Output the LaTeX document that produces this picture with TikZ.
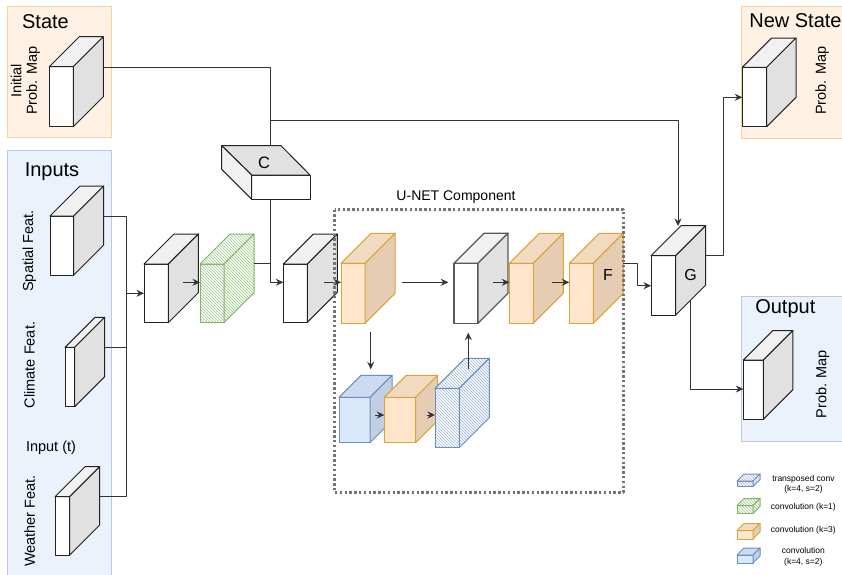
\documentclass[tikz,border=0pt]{standalone}
\usepackage{fontspec}
\setmainfont{Liberation Sans}
\usetikzlibrary{arrows.meta,patterns,calc}

\definecolor{orfill}{HTML}{FFE6CC}
\definecolor{ortop}{HTML}{F2DAC0}
\definecolor{orside}{HTML}{E5CCB3}
\definecolor{orline}{HTML}{D9A53A}
\definecolor{blfill}{HTML}{DAE8FC}
\definecolor{bltop}{HTML}{CCDBF0}
\definecolor{blside}{HTML}{C2CFE2}
\definecolor{blline}{HTML}{6C8EBF}
\definecolor{grline}{HTML}{82B366}
\definecolor{grhatch}{HTML}{9CC78A}
\definecolor{blhatch}{HTML}{9DB6DC}
\definecolor{gtopc}{HTML}{F1F1F1}
\definecolor{gsidec}{HTML}{E1E1E1}
\definecolor{cubeline}{HTML}{222222}
\definecolor{statefill}{HTML}{FFF1E3}
\definecolor{stateline}{HTML}{F2D39E}
\definecolor{inpfill}{HTML}{EBF2FC}
\definecolor{inpline}{HTML}{B8CAE6}
\definecolor{connc}{HTML}{333333}

\newcommand\mkcube[7]{%
  \path[#7front] (#2,#3) rectangle ++(#4,#5);
  \path[#7top] (#2,#3) -- ++(#6,-#6) -- ++(#4,0) -- ++(-#6,#6) -- cycle;
  \path[#7side] ({#2+#4},#3) -- ++(#6,-#6) -- ++(0,#5) -- ++(-#6,#6) -- cycle;
  \path ({#2},{#3-#6}) node[inner sep=0pt,outer sep=0pt,anchor=north west,minimum width={(#4+#6)*1pt},minimum height={(#5+#6)*1pt}] (#1) {};
}

\tikzset{
  gfront/.style={draw=cubeline,fill=white},
  gtop/.style={draw=cubeline,fill=gtopc},
  gside/.style={draw=cubeline,fill=gsidec},
  kfront/.style={draw=black!65,line width=1.3pt,fill=white},
  ktop/.style={draw=black!65,line width=1.3pt,fill=gtopc},
  kside/.style={draw=black!65,line width=1.3pt,fill=gsidec},
  ofront/.style={draw=orline,fill=orfill},
  otop/.style={draw=orline,fill=ortop},
  oside/.style={draw=orline,fill=orside},
  bfront/.style={draw=blline,fill=blfill},
  btop/.style={draw=blline,fill=bltop},
  bside/.style={draw=blline,fill=blside},
  hgfront/.style={draw=grline,preaction={fill=white},pattern=north west lines,pattern color=grhatch},
  hgtop/.style={draw=grline,preaction={fill=white},pattern=north west lines,pattern color=grhatch},
  hgside/.style={draw=grline,preaction={fill=green!4!white},pattern=north west lines,pattern color=grhatch},
  hbfront/.style={draw=blline,preaction={fill=white},pattern=north west lines,pattern color=blhatch},
  hbtop/.style={draw=blline,preaction={fill=white},pattern=north west lines,pattern color=blhatch},
  hbside/.style={draw=blline,preaction={fill=blue!3!white},pattern=north west lines,pattern color=blhatch},
  statebox/.style={draw=stateline,fill=statefill,line width=1pt},
  inpbox/.style={draw=inpline,fill=inpfill,line width=1pt},
  conn/.style={draw=connc,line width=1pt},
  arr/.style={draw=connc,line width=1pt,-{Stealth[length=7.5pt,width=7pt,inset=2.5pt]}},
  bigtxt/.style={inner sep=0pt,font=\fontsize{20}{24}\selectfont},
  labtxt/.style={inner sep=0pt,font=\fontsize{14.5}{16}\selectfont,align=center},
  rlab/.style={labtxt,rotate=90},
  legtxt/.style={inner sep=0pt,font=\fontsize{8.5}{10.5}\selectfont,align=center},
  unet/.style={draw=black!55,line width=2.6pt,dash pattern=on 2.4pt off 2.4pt},
}

\begin{document}
\begin{tikzpicture}[x=1pt,y=-1pt,line join=round,line width=1pt]
\useasboundingbox (0,0) rectangle (842,574);
\clip (0,0) rectangle (842,574);
\fill[white] (0,0) rectangle (842,574);

% group boxes
\draw[statebox] (7,6) rectangle (111.5,137.7);
\draw[inpbox] (7,150) rectangle (111.5,580);
\draw[statebox] (741,6) rectangle (852,138.3);
\draw[inpbox] (741,296) rectangle (852,441.7);

\node[bigtxt,anchor=base] (tstate) at (45.5,28.3) {State};
\node[bigtxt,anchor=base] (tinputs) at (52,176) {Inputs};
\node[bigtxt,anchor=base west] (tnew) at (748.8,27.3) {New State};
\node[bigtxt,anchor=base] (tout) at (785.3,313) {Output};

% rotated labels
\node[rlab,font=\fontsize{14.5}{15.5}\selectfont] (lipm) at (25.5,80.8) {Initial\\Prob. Map};
\node[rlab] (lsp) at (29.5,251) {Spatial Feat.};
\node[rlab] (lcl) at (29.5,365) {Climate Feat.};
\node[rlab] (lwe) at (29.8,521) {Weather Feat.};
\node[labtxt,anchor=base] (linp) at (51,451.7) {Input (t)};
\node[rlab] (lnew) at (822,80.8) {Prob. Map};
\node[rlab] (lout) at (822.5,384.2) {Prob. Map};

% connectors behind cubes
\coordinate (ipmout) at (103.3,67);
\coordinate (cjoin) at (270.7,120);
\coordinate (ctop) at (270.7,146);
\coordinate (gtopin) at (678,226);
\draw[conn] (ipmout) -| (ctop);
\draw[arr] (cjoin) -| (gtopin);

% state / input cubes
\mkcube{ipm}{49.3}{66.7}{24}{60}{30}{g}
\mkcube{spatial}{50}{216}{23.7}{59}{30}{g}
\mkcube{climate}{65}{347.3}{9.7}{59.4}{30}{g}
\mkcube{weather}{55}{496.7}{14.7}{58.3}{30}{g}

% C block (depth to upper left)
\path[gfront] (251.7,175) rectangle (310,199.3);
\path[gside] (251.7,175) -- (221.7,145.7) -- (281,145.7) -- (310,175) -- cycle;
\path[gtop] (251.7,175) -- (221.7,145.7) -- (221.7,169.3) -- (251.7,199.3) -- cycle;
\path (221.7,145.7) node[inner sep=0pt,anchor=north west,minimum width=88.3pt,minimum height=53.6pt] (C) {};
\node[inner sep=0pt,font=\fontsize{16.5}{18}\selectfont,anchor=base] (tC) at (264.2,168.3) {C};

% main row
\mkcube{cube1}{144}{264}{24.3}{58.7}{30}{g}
\mkcube{green}{200}{264}{24}{58.7}{30}{hg}
\mkcube{cube3}{283.3}{264}{24}{58.3}{30}{g}
\mkcube{orange1}{341}{263.3}{24}{60}{30}{o}
\mkcube{cube4}{454}{263.3}{24}{60}{30}{k}
\mkcube{orange2}{509.3}{263.3}{24}{60}{30}{o}
\mkcube{orange3}{569.3}{263.3}{24}{60}{30}{o}
\node[inner sep=0pt,font=\fontsize{16}{18}\selectfont,anchor=base] (tF) at (608,280) {F};

% lower U-Net row
\mkcube{blue1}{339}{397.3}{31}{45.4}{22}{b}
\mkcube{orange4}{384.3}{397.3}{31.4}{45.4}{22}{o}
\mkcube{tconv}{435}{388.3}{24.3}{59.4}{30}{hb}

% G block
\mkcube{G}{651}{255.7}{24.7}{59.3}{30}{g}
\node[inner sep=0pt,font=\fontsize{16}{18}\selectfont,anchor=base] (tG) at (690.5,280.7) {G};

% output cubes
\mkcube{newcube}{742.3}{67.3}{24.4}{59.4}{29.3}{g}
\mkcube{outcube}{743.3}{360}{20}{59.3}{29.5}{g}

% input connectors
\coordinate (spout) at (104,216);
\coordinate (clout) at (104.7,347.3);
\coordinate (weout) at (99.7,496);
\coordinate (bus1) at (126.7,216);
\coordinate (bus2) at (126.7,496);
\coordinate (busm) at (126.7,293.3);
\coordinate (c1in) at (144,293.3);
\draw[conn] (spout) -- (bus1) -- (bus2) -- (weout);
\draw[conn] (clout) -- (126.7,347.3);
\draw[arr] (busm) -- (c1in);

% green and C into cube3
\coordinate (grout) at (254,263.3);
\coordinate (cbot) at (270.7,199.3);
\coordinate (c3in) at (283.3,282.3);
\draw[conn] (grout) -- (270.7,263.3);
\draw[arr] (cbot) |- (c3in);

% small arrows in the main row
\draw[arr] (183,282.3) -- (green.west |- 0,282.3);
\draw[arr] (324,282.3) -- (orange1.west |- 0,282.3);
\draw[arr] (402.3,282.3) -- (448.3,282.3);
\draw[arr] (493.3,282.3) -- (orange2.west |- 0,282.3);
\draw[arr] (552.3,282.3) -- (orange3.west |- 0,282.3);

% U-Net vertical arrows
\draw[arr] (370.7,332.3) -- (370.7,369.3);
\draw[arr] (375,415) -- (orange4.west |- 0,415);
\draw[arr] (426.7,415) -- (tconv.west |- 0,415);
\draw[arr] (468.3,369.3) -- (468.3,332.7);

% F -> G, G -> outputs
\coordinate (fout) at (623.3,263.3);
\coordinate (gin) at (651,285.7);
\draw[arr] (fout) -- (637,263.3) |- (gin);
\coordinate (gout) at (705.7,255.7);
\coordinate (nsin) at (742.3,97.3);
\draw[arr] (gout) -- (723.3,255.7) |- (nsin);
\coordinate (gbot) at (690,300.7);
\coordinate (outin) at (743.3,389);
\draw[arr] (gbot) |- (outin);

% U-Net frame
\draw[unet] (334.5,209.5) rectangle (623.3,492.3);
\node[labtxt,anchor=base,font=\fontsize{14}{16}\selectfont] (tunet) at (456,200.5) {U-NET Component};

% legend
\mkcube{leg1}{737}{481}{16}{5.5}{7}{hb}
\mkcube{leg2}{737}{505.5}{16}{8}{7}{hg}
\mkcube{leg3}{737}{530.5}{16}{8.5}{7}{o}
\mkcube{leg4}{737}{555}{16}{8}{7}{b}
\node[legtxt] (lt1) at (803.5,484.3) {transposed conv\\(k=4, s=2)};
\node[legtxt] (lt2) at (803.3,507.7) {convolution (k=1)};
\node[legtxt] (lt3) at (803.3,530.7) {convolution (k=3)};
\node[legtxt] (lt4) at (803.3,557) {convolution\\(k=4, s=2)};
\end{tikzpicture}
\end{document}
